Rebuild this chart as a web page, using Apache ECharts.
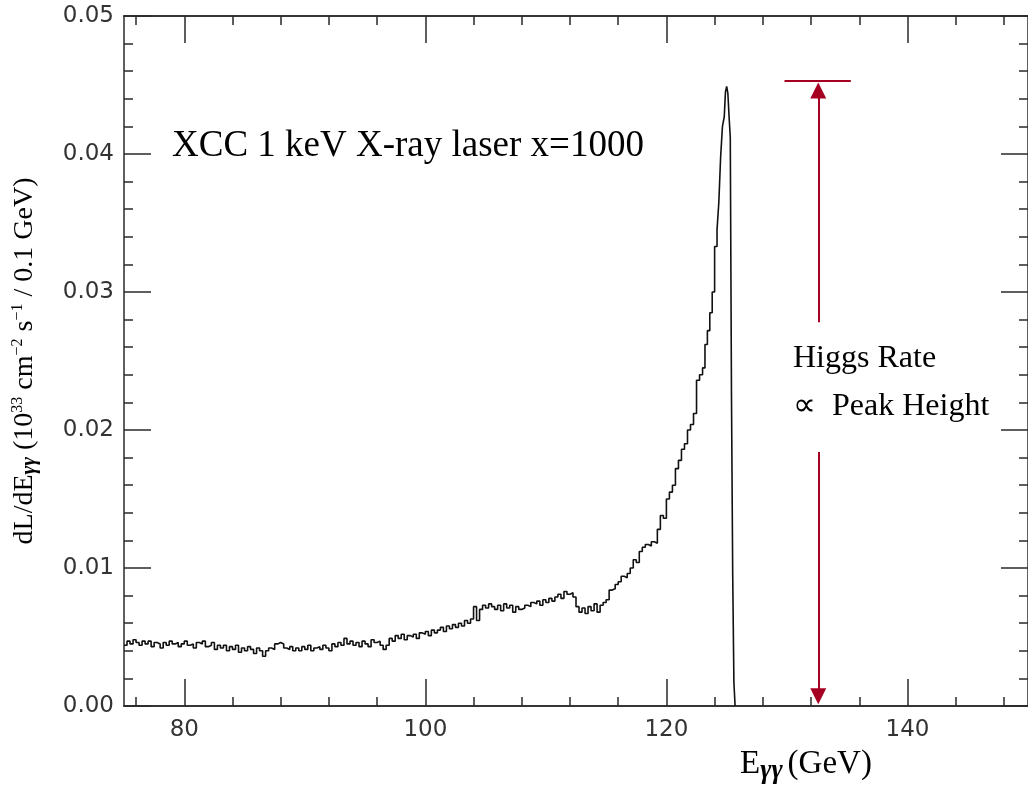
<!DOCTYPE html>
<html>
<head>
<meta charset="utf-8">
<script src="https://cdn.jsdelivr.net/npm/echarts@6/dist/echarts.min.js"></script>
<style>
  html, body { margin: 0; padding: 0; background: #fff; }
  #chart { width: 1028px; height: 791px; }
</style>
</head>
<body>
<div id="chart"></div>
<script>
// luminosity spectrum, 0.25 GeV steps from 75 GeV up to 120 GeV
const lowStart = 75;
const lowStep = 0.25;
const lowValues = [
  0.0044, 0.0047, 0.0045, 0.0048,  // 75
  0.0046, 0.0044, 0.0047, 0.0045,
  0.0047, 0.0043, 0.0046, 0.0045,
  0.0042, 0.0046, 0.0044, 0.0047,
  0.0045, 0.0046, 0.0043, 0.0045,
  0.0047, 0.0044, 0.0045, 0.0042,  // 80
  0.0046, 0.0045, 0.0047, 0.0043,
  0.0044, 0.0046, 0.0041, 0.0044,
  0.0042, 0.0044, 0.0040, 0.0043,
  0.0041, 0.0044, 0.0039, 0.0042,
  0.0040, 0.0043, 0.0041, 0.0038,  // 85
  0.0042, 0.0040, 0.0036, 0.0040,
  0.0042, 0.0041, 0.0045, 0.0046,
  0.0045, 0.0042, 0.0041, 0.0043,
  0.0040, 0.0042, 0.0040, 0.0043,
  0.0041, 0.0044, 0.0040, 0.0042,  // 90
  0.0043, 0.0041, 0.0044, 0.0042,
  0.0040, 0.0045, 0.0043, 0.0046,
  0.0044, 0.0049, 0.0045, 0.0047,
  0.0044, 0.0046, 0.0043, 0.0047,
  0.0045, 0.0043, 0.0048, 0.0046,  // 95
  0.0047, 0.0044, 0.0041, 0.0044,
  0.0049, 0.0047, 0.0051, 0.0049,
  0.0052, 0.0048, 0.0051, 0.0050,
  0.0052, 0.0049, 0.0053, 0.0052,
  0.0054, 0.0051, 0.0055, 0.0053,  // 100
  0.0055, 0.0057, 0.0054, 0.0058,
  0.0056, 0.0059, 0.0057, 0.0060,
  0.0058, 0.0062, 0.0060, 0.0063,
  0.0072, 0.0062, 0.0070, 0.0073,
  0.0071, 0.0074, 0.0072, 0.0070,  // 105
  0.0073, 0.0069, 0.0074, 0.0071,
  0.0073, 0.0068, 0.0072, 0.0070,
  0.0071, 0.0073, 0.0072, 0.0075,
  0.0074, 0.0076, 0.0073, 0.0077,
  0.0075, 0.0078, 0.0076, 0.0079,  // 110
  0.0081, 0.0078, 0.0083, 0.0081,
  0.0082, 0.0079, 0.0072, 0.0068,
  0.0071, 0.0067, 0.0072, 0.0069,
  0.0074, 0.0068, 0.0073, 0.0075,
  0.0077, 0.0084, 0.0085, 0.0088,  // 115
  0.0090, 0.0094, 0.0093, 0.0096,
  0.0100, 0.0106, 0.0104, 0.0112,
  0.0115, 0.0117, 0.0116, 0.0119,
  0.0118, 0.0128, 0.0138, 0.0136
];
// the rising edge and the peak, finer steps
const peakEnergies = [120.0, 120.25, 120.5, 120.75, 121.0, 121.25, 121.5, 121.75, 122.0, 122.25,
  122.5, 122.75, 123.0, 123.2, 123.4, 123.6, 123.8, 124.0, 124.2, 124.35, 124.5, 124.65,
  124.8, 124.9, 125.0, 125.1, 125.2, 125.3, 125.4, 125.5, 125.6, 125.7];
const peakValues = [0.0150, 0.0155, 0.0160, 0.0172, 0.0178, 0.0186, 0.0190, 0.0200, 0.0204, 0.0212,
  0.0236, 0.0240, 0.0245, 0.0262, 0.0272, 0.0285, 0.0300, 0.0333, 0.0345, 0.0365, 0.0398, 0.0420,
  0.0427, 0.0445, 0.0449, 0.0444, 0.0427, 0.0412, 0.0224, 0.0096, 0.0017, 0.0];

const xMajorTicks = [80, 100, 120, 140];
const xMinorTicks = [76, 84, 88, 92, 96, 104, 108, 112, 116, 124, 128, 132, 136, 144, 148];

// red annotation: peak-height bar and arrows (GeV, luminosity)
const arrowE = 132.6;
const barEnds = [129.8, 135.3];
const barLevel = 0.0453;
const upArrow = [0.0278, 0.0446];
const downArrow = [0.0184, 0.0007];

const red = '#a50021';
const axisCol = '#2a2a2a';

let seriesData = lowValues.map((v, i) => [lowStart + i * lowStep, v]);
peakEnergies.forEach((e, i) => seriesData.push([e, peakValues[i]]));

const myChart = echarts.init(document.getElementById('chart'));

function xAxisCfg(pos, ticks, len, labels) {
  return {
    type: 'value', position: pos, min: 75, max: 150,
    axisLine: { show: true, lineStyle: { color: axisCol, width: 1.5 } },
    axisTick: { show: true, inside: true, length: len, customValues: ticks,
      lineStyle: { color: axisCol, width: 1.5 } },
    axisLabel: labels ? { show: true, customValues: ticks, margin: 13, color: '#333',
      fontFamily: 'DejaVu Sans', fontSize: 23 } : { show: false },
    splitLine: { show: false }
  };
}

function yAxisCfg(pos, labels) {
  return {
    type: 'value', position: pos, min: 0, max: 0.05, interval: 0.01,
    axisLine: { show: true, lineStyle: { color: axisCol, width: 1.5 } },
    axisTick: { show: true, inside: true, length: 27, lineStyle: { color: axisCol, width: 1.5 } },
    minorTick: { show: true, splitNumber: 5, length: 9, lineStyle: { color: axisCol, width: 1.5 } },
    axisLabel: labels ? { show: true, margin: 10, color: '#333', fontFamily: 'DejaVu Sans',
      fontSize: 23, formatter: v => v.toFixed(2) } : { show: false },
    splitLine: { show: false }
  };
}

const yLeft = yAxisCfg('left', true);
yLeft.name = 'dL/dE{sub|γγ} (10{sup|33} cm{sup|−2} s{sup|−1} / 0.1 GeV)';
yLeft.nameLocation = 'middle';
yLeft.nameRotate = 90;
yLeft.nameGap = 84;
yLeft.nameTextStyle = {
  fontFamily: 'Liberation Serif', fontSize: 28, color: '#000',
  rich: {
    sub: { fontFamily: 'Liberation Serif', fontSize: 21, fontStyle: 'italic', fontWeight: 'bold',
      color: '#000', verticalAlign: 'bottom', padding: [9, 0, 0, 0] },
    sup: { fontFamily: 'Liberation Serif', fontSize: 16, color: '#000', verticalAlign: 'top',
      padding: [0, 0, 9, 0] }
  }
};

const option = {
  animation: false,
  backgroundColor: '#fff',
  grid: { left: 124, top: 16, right: -5, bottom: 85 },
  xAxis: [
    xAxisCfg('bottom', xMajorTicks, 27, true),
    xAxisCfg('bottom', xMinorTicks, 9, false),
    xAxisCfg('top', xMajorTicks, 27, false),
    xAxisCfg('top', xMinorTicks, 9, false)
  ],
  yAxis: [yLeft, yAxisCfg('right', false)],
  graphic: [
    { type: 'text', left: 172, top: 128,
      style: { text: 'XCC 1 keV X-ray laser x=1000', fontFamily: 'Liberation Serif',
        fontSize: 37, fill: '#000' } },
    { type: 'text', left: 793, top: 343,
      style: { text: 'Higgs Rate', fontFamily: 'Liberation Serif', fontSize: 32, fill: '#000' } },
    { type: 'text', left: 793, top: 391,
      style: { text: '∝  Peak Height', fontFamily: 'Liberation Serif', fontSize: 32, fill: '#000' } },
    { type: 'text', left: 740, top: 748,
      style: { text: '{m|E}{s|γγ}{m|(GeV)}', fill: '#000',
        rich: {
          m: { fontFamily: 'Liberation Serif', fontSize: 33, fill: '#000', verticalAlign: 'top' },
          s: { fontFamily: 'Liberation Serif', fontSize: 27, fontStyle: 'italic', fontWeight: 'bold',
            fill: '#000', verticalAlign: 'bottom', padding: [10, 5, 0, 0] }
        } } }
  ],
  series: [{
    type: 'line',
    xAxisIndex: 0,
    yAxisIndex: 0,
    step: 'end',
    showSymbol: false,
    clip: true,
    data: seriesData,
    lineStyle: { color: '#111', width: 1.6 },
    markLine: {
      silent: true,
      animation: false,
      label: { show: false },
      lineStyle: { color: red, width: 2, type: 'solid' },
      symbolSize: 16,
      data: [
        [{ coord: [barEnds[0], barLevel], symbol: 'none' }, { coord: [barEnds[1], barLevel], symbol: 'none' }],
        [{ coord: [arrowE, upArrow[0]], symbol: 'none' }, { coord: [arrowE, upArrow[1]], symbol: 'triangle' }],
        [{ coord: [arrowE, downArrow[0]], symbol: 'none' }, { coord: [arrowE, downArrow[1]], symbol: 'triangle' }]
      ]
    }
  }]
};

myChart.setOption(option);
</script>
</body>
</html>
